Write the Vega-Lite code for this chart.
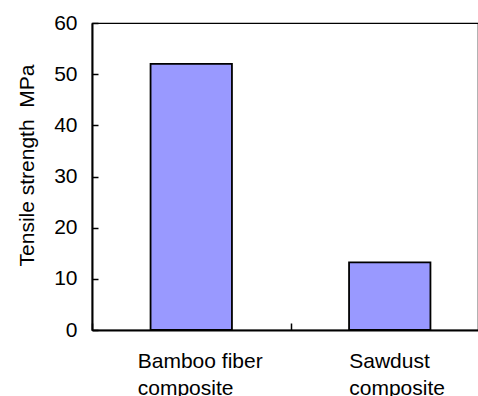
{
  "$schema": "https://vega.github.io/schema/vega-lite/v6.json",
  "autosize": {"type": "none"},
  "padding": {"left": 92, "top": 23, "right": 0, "bottom": 66},
  "width": 386,
  "height": 307,
  "background": "white",
  "config": {
    "font": "Liberation Sans",
    "view": {"stroke": "black", "strokeWidth": 1.2}
  },
  "data": {
    "values": [
      {"material": "Bamboo fiber composite", "strength": 52.0},
      {"material": "Sawdust composite", "strength": 13.2}
    ]
  },
  "mark": {"type": "bar", "color": "#9999FF", "stroke": "black", "strokeWidth": 1.8, "width": {"band": 0.41}},
  "encoding": {
    "x": {
      "field": "material",
      "type": "nominal",
      "sort": null,
      "scale": {"range": [0, 397], "paddingInner": 0, "paddingOuter": 0},
      "axis": {
        "title": null,
        "labelAngle": 0,
        "labelExpr": "datum.value == 'Bamboo fiber composite' ? ['Bamboo fiber', 'composite'] : datum.value == 'Sawdust composite' ? ['Sawdust', 'composite'] : ''",
        "labelFontSize": 21,
        "labelColor": "black",
        "labelAlign": "left",
        "labelBaseline": "top",
        "labelLineHeight": 27,
        "labelOffset": {"condition": {"test": "datum.value == 'Bamboo fiber composite'", "value": -54}, "value": -41},
        "labelPadding": 27,
        "tickBand": "extent",
        "tickSize": -7,
        "tickColor": "black",
        "tickWidth": 1.5,
        "domainColor": "black",
        "domainWidth": 2,
        "labelFlush": false,
        "labelOverlap": false
      }
    },
    "y": {
      "field": "strength",
      "type": "quantitative",
      "scale": {"domain": [0, 60], "nice": false},
      "axis": {
        "title": "Tensile strength \u00a0MPa",
        "titleFontSize": 21,
        "titleFontWeight": "normal",
        "titleColor": "black",
        "titleAngle": -90,
        "titleX": -59,
        "titleY": 142,
        "titleAlign": "center",
        "titleBaseline": "alphabetic",
        "values": [0, 10, 20, 30, 40, 50, 60],
        "grid": false,
        "labelFontSize": 21,
        "labelColor": "black",
        "labelPadding": 21,
        "tickSize": -6,
        "tickColor": "black",
        "tickWidth": 1.5,
        "domainColor": "black",
        "domainWidth": 2,
        "labelFlush": false,
        "labelOverlap": false
      }
    }
  }
}
